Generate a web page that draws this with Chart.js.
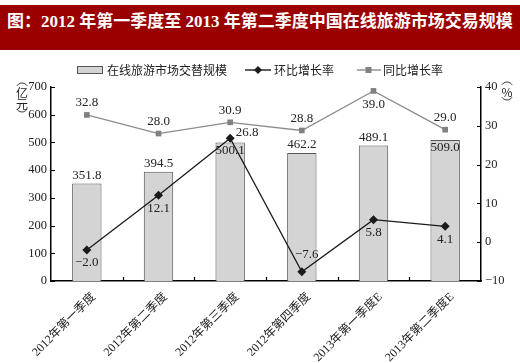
<!DOCTYPE html>
<html>
<head>
<meta charset="utf-8">
<script src="https://cdn.jsdelivr.net/npm/chart.js@4.4.0/dist/chart.umd.min.js"></script>
<style>
  html, body { margin: 0; padding: 0; background: #fff; }
  #wrap { position: relative; width: 520px; height: 363px; }
  #title {
    position: absolute; left: 0; top: 5px; width: 520px; height: 45px;
    background: #9a0000; color: #fff; box-sizing: border-box; padding-left: 7px;
    font: bold 17px 'Liberation Serif', 'Noto Sans CJK SC', serif;
    line-height: 34px; white-space: nowrap;
  }
  canvas { position: absolute; left: 0; top: 0; }
</style>
</head>
<body>
<div id="wrap">
  <canvas id="chart" width="520" height="363"></canvas>
  <div id="title">图：2012 年第一季度至 2013 年第二季度中国在线旅游市场交易规模</div>
</div>
<script>
// values
const categories = ['2012年第一季度', '2012年第二季度', '2012年第三季度', '2012年第四季度', '2013年第一季度E', '2013年第二季度E'];
const marketScale = [351.8, 394.5, 500.1, 462.2, 489.1, 509.0];   // 亿元
const qoqGrowth = [-2.0, 12.1, 26.8, -7.6, 5.8, 4.1];             // 环比 %
const yoyGrowth = [32.8, 28.0, 30.9, 28.8, 39.0, 29.0];           // 同比 %
const leftTicks = [0, 100, 200, 300, 400, 500, 600, 700];
const rightTicks = [-10, 0, 10, 20, 30, 40];

// where each value label sits relative to its mark
const barLabelPos = ['above', 'above', 'inside', 'above', 'above', 'inside'];
const qoqLabelPos = ['below', 'below', 'right', 'above', 'below', 'below'];
const yoyLabelPos = ['above', 'above', 'above', 'above', 'below', 'above'];

const SERIF = "'Liberation Serif', 'Noto Sans CJK SC', serif";
const CJK = "'Noto Sans CJK SC', sans-serif";
const INK = '#222';

function fmt(v) {
  const s = Math.abs(v).toFixed(1);
  return v < 0 ? '\u2212' + s : s;
}

function diamond(ctx, x, y, r) {
  ctx.beginPath();
  ctx.moveTo(x, y - r); ctx.lineTo(x + r, y); ctx.lineTo(x, y + r); ctx.lineTo(x - r, y);
  ctx.closePath(); ctx.fill();
}

// vertical caption: sideways brackets with the characters stacked between
function verticalCaption(ctx, x, y, chars) {
  ctx.save();
  ctx.strokeStyle = INK;
  ctx.lineWidth = 0.9;
  ctx.beginPath();
  ctx.arc(x, y + 5, 6, 1.18 * Math.PI, 1.82 * Math.PI);
  ctx.stroke();
  let cy = y + 9;
  ctx.font = '12px ' + CJK;
  chars.forEach(ch => { ctx.fillText(ch, x, cy); cy += 11; });
  ctx.beginPath();
  ctx.arc(x, cy - 9, 6, 0.18 * Math.PI, 0.82 * Math.PI);
  ctx.stroke();
  ctx.restore();
}

// small tick marks pointing into the plot, like the printed original
const innerTicks = {
  id: 'innerTicks',
  afterDatasetsDraw(chart) {
    const { ctx, chartArea, scales } = chart;
    ctx.save();
    ctx.strokeStyle = '#000';
    ctx.lineWidth = 1.2;
    ctx.beginPath();
    leftTicks.forEach(v => {
      const y = Math.round(scales.y.getPixelForValue(v)) + 0.5;
      ctx.moveTo(chartArea.left, y); ctx.lineTo(chartArea.left + 4, y);
    });
    rightTicks.forEach(v => {
      const y = Math.round(scales.y1.getPixelForValue(v)) + 0.5;
      ctx.moveTo(chartArea.right, y); ctx.lineTo(chartArea.right - 4, y);
    });
    for (let i = 1; i < categories.length; i++) {
      const x = Math.round((scales.x.getPixelForValue(i - 1) + scales.x.getPixelForValue(i)) / 2) + 0.5;
      ctx.moveTo(x, chartArea.bottom); ctx.lineTo(x, chartArea.bottom - 4);
    }
    ctx.stroke();
    ctx.restore();
  }
};

const valueLabels = {
  id: 'valueLabels',
  afterDatasetsDraw(chart) {
    const { ctx } = chart;
    ctx.save();
    ctx.font = '13px ' + SERIF;
    ctx.fillStyle = INK;
    ctx.textAlign = 'center';
    ctx.textBaseline = 'middle';
    chart.getDatasetMeta(0).data.forEach((bar, i) => {
      const y = barLabelPos[i] === 'inside' ? bar.y + 8 : bar.y - 8;
      ctx.fillText(fmt(marketScale[i]), bar.x, y);
    });
    chart.getDatasetMeta(1).data.forEach((pt, i) => {
      let x = pt.x, y = pt.y + 13;
      if (qoqLabelPos[i] === 'right') { x += 17; y = pt.y - 6; }
      if (qoqLabelPos[i] === 'above') { x += 5; y = pt.y - 17; }
      ctx.fillText(fmt(qoqGrowth[i]), x, y);
    });
    chart.getDatasetMeta(2).data.forEach((pt, i) => {
      const y = yoyLabelPos[i] === 'below' ? pt.y + 14 : pt.y - 12;
      ctx.fillText(fmt(yoyGrowth[i]), pt.x, y);
    });
    ctx.restore();
  }
};

const decorations = {
  id: 'decorations',
  afterDraw(chart) {
    const { ctx } = chart;
    ctx.save();
    ctx.fillStyle = INK;
    ctx.textAlign = 'center';
    ctx.textBaseline = 'middle';
    verticalCaption(ctx, 22, 84, ['亿', '元']);
    verticalCaption(ctx, 507, 83, ['%']);

    // legend
    const ly = 70;
    ctx.fillStyle = '#d4d4d4';
    ctx.fillRect(77, ly - 3.5, 26, 7);
    ctx.strokeStyle = '#555';
    ctx.lineWidth = 1;
    ctx.strokeRect(77.5, ly - 3.5, 25, 7);
    ctx.lineWidth = 1.4;
    ctx.strokeStyle = '#1a1a1a';
    ctx.beginPath(); ctx.moveTo(245, ly); ctx.lineTo(271, ly); ctx.stroke();
    ctx.fillStyle = '#1a1a1a';
    diamond(ctx, 258, ly, 4);
    ctx.strokeStyle = '#8c8c8c';
    ctx.beginPath(); ctx.moveTo(357, ly); ctx.lineTo(381, ly); ctx.stroke();
    ctx.fillStyle = '#808080';
    ctx.fillRect(365.5, ly - 3, 6, 6);
    ctx.fillStyle = INK;
    ctx.textAlign = 'left';
    ctx.font = '12px ' + CJK;
    ctx.fillText('在线旅游市场交替规模', 107, ly);
    ctx.fillText('环比增长率', 274, ly);
    ctx.fillText('同比增长率', 383, ly);
    ctx.restore();
  }
};

new Chart(document.getElementById('chart'), {
  data: {
    labels: categories,
    datasets: [
      {
        type: 'bar',
        label: '在线旅游市场交替规模',
        data: marketScale,
        yAxisID: 'y',
        backgroundColor: '#d4d4d4',
        borderColor: '#555',
        borderWidth: { top: 1, left: 1, right: 1, bottom: 0 },
        categoryPercentage: 1,
        barPercentage: 0.41,
        order: 3,
      },
      {
        type: 'line',
        label: '环比增长率',
        data: qoqGrowth,
        yAxisID: 'y1',
        borderColor: '#1a1a1a',
        borderWidth: 1.3,
        pointStyle: 'rectRot',
        pointRadius: 4.5,
        pointBackgroundColor: '#1a1a1a',
        pointBorderWidth: 0,
        tension: 0,
        order: 1,
      },
      {
        type: 'line',
        label: '同比增长率',
        data: yoyGrowth,
        yAxisID: 'y1',
        borderColor: '#8c8c8c',
        borderWidth: 1.3,
        pointStyle: 'rect',
        pointRadius: 4,
        pointBackgroundColor: '#808080',
        pointBorderWidth: 0,
        tension: 0,
        order: 2,
      },
    ],
  },
  options: {
    responsive: false,
    animation: false,
    layout: { padding: { top: 87, left: 0, right: 0, bottom: 0 } },
    plugins: {
      legend: { display: false },
      tooltip: { enabled: false },
    },
    scales: {
      x: {
        offset: true,
        grid: { display: false },
        border: { color: '#000', width: 1.5 },
        ticks: {
          color: INK,
          font: { family: SERIF, size: 12 },
          maxRotation: 45,
          minRotation: 45,
          labelOffset: 7,
          padding: 1,
        },
        afterFit: (s) => { s.height = 82; },
      },
      y: {
        position: 'left',
        min: 0,
        max: 700,
        grid: { display: false, drawTicks: false },
        border: { color: '#000', width: 1.5 },
        ticks: {
          stepSize: 100,
          color: INK,
          padding: 4,
          font: { family: SERIF, size: 12.5 },
        },
        afterFit: (s) => { s.width = 51; },
      },
      y1: {
        position: 'right',
        min: -10,
        max: 40,
        grid: { display: false, drawTicks: false },
        border: { color: '#000', width: 1.5 },
        ticks: {
          stepSize: 10,
          color: INK,
          padding: 4,
          font: { family: SERIF, size: 12.5 },
          callback: (v) => (v < 0 ? '\u2212' + Math.abs(v) : v),
        },
        afterFit: (s) => { s.width = 39; },
      },
    },
  },
  plugins: [innerTicks, valueLabels, decorations],
});
</script>
</body>
</html>
